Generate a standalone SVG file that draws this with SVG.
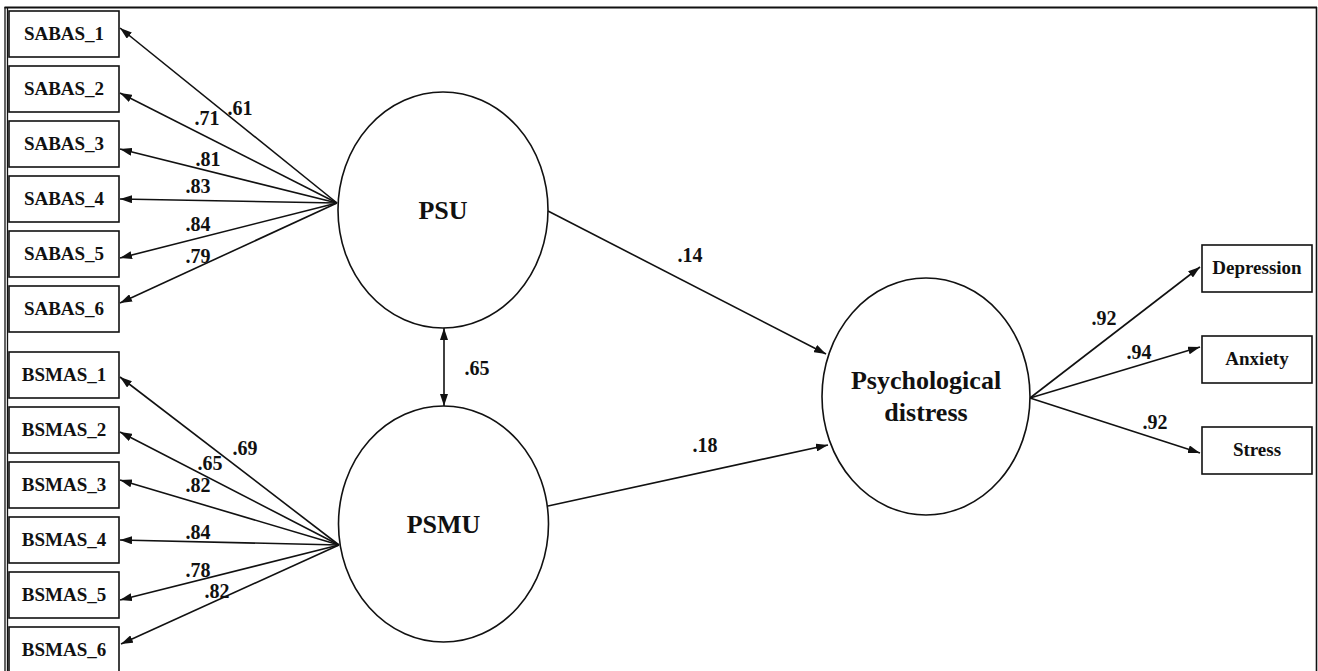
<svg xmlns="http://www.w3.org/2000/svg" width="1318" height="671" viewBox="0 0 1318 671">
<style>
.box{fill:#fff;stroke:#111;stroke-width:1.6}
.lat{fill:#fff;stroke:#111;stroke-width:1.6}
text{font-family:'Liberation Serif','Times New Roman','DejaVu Serif',serif;font-weight:700;fill:#111;text-anchor:middle}
.bl{font-size:19px}
.ll{font-size:26px}
.num{font-size:20px}
.c{stroke:#111;stroke-width:1.6;fill:none}
</style>
<defs>
<marker id="ah" viewBox="0 0 12 8" refX="12" refY="4" markerWidth="12" markerHeight="8" markerUnits="userSpaceOnUse" orient="auto-start-reverse">
<path d="M0,0 L12,4 L0,8 Z" fill="#111"/>
</marker>
</defs>
<rect x="0" y="0" width="1318" height="671" fill="#fff"/>
<g id="frame" stroke="#111" fill="none">
<line x1="4.5" y1="7.5" x2="1317" y2="7.5" stroke-width="2"/>
<line x1="5" y1="7" x2="5" y2="671" stroke-width="1.3"/>
<line x1="7.5" y1="7" x2="7.5" y2="671" stroke-width="1.3"/>
<line x1="1316.5" y1="7" x2="1316.5" y2="671" stroke-width="1.6"/>
</g>
<g id="connectors">
<line class="c" x1="337" y1="203" x2="120" y2="28" marker-end="url(#ah)"/>
<line class="c" x1="337" y1="203" x2="120" y2="93" marker-end="url(#ah)"/>
<line class="c" x1="337" y1="203" x2="120" y2="149" marker-end="url(#ah)"/>
<line class="c" x1="337" y1="203" x2="120" y2="199" marker-end="url(#ah)"/>
<line class="c" x1="337" y1="203" x2="120" y2="258" marker-end="url(#ah)"/>
<line class="c" x1="337" y1="203" x2="120" y2="303" marker-end="url(#ah)"/>
<line class="c" x1="339" y1="545" x2="120" y2="377" marker-end="url(#ah)"/>
<line class="c" x1="339" y1="545" x2="120" y2="432" marker-end="url(#ah)"/>
<line class="c" x1="339" y1="545" x2="120" y2="480" marker-end="url(#ah)"/>
<line class="c" x1="339" y1="545" x2="120" y2="540" marker-end="url(#ah)"/>
<line class="c" x1="339" y1="545" x2="120" y2="600" marker-end="url(#ah)"/>
<line class="c" x1="339" y1="545" x2="121" y2="644" marker-end="url(#ah)"/>
<line class="c" x1="444" y1="328" x2="444" y2="406" marker-start="url(#ah)" marker-end="url(#ah)"/>
<line class="c" x1="548" y1="211" x2="826" y2="354" marker-end="url(#ah)"/>
<line class="c" x1="548" y1="506" x2="828" y2="445" marker-end="url(#ah)"/>
<line class="c" x1="1030" y1="398" x2="1200" y2="267" marker-end="url(#ah)"/>
<line class="c" x1="1030" y1="398" x2="1200" y2="347" marker-end="url(#ah)"/>
<line class="c" x1="1030" y1="398" x2="1200" y2="453" marker-end="url(#ah)"/>
<text class="num" x="240" y="115">.61</text>
<text class="num" x="207" y="125">.71</text>
<text class="num" x="208" y="166">.81</text>
<text class="num" x="198" y="193">.83</text>
<text class="num" x="198" y="231">.84</text>
<text class="num" x="198" y="263">.79</text>
<text class="num" x="245" y="455">.69</text>
<text class="num" x="210" y="470">.65</text>
<text class="num" x="198" y="492">.82</text>
<text class="num" x="198" y="539">.84</text>
<text class="num" x="198" y="577">.78</text>
<text class="num" x="217" y="598">.82</text>
<text class="num" x="477" y="375">.65</text>
<text class="num" x="690" y="262">.14</text>
<text class="num" x="705" y="452">.18</text>
<text class="num" x="1104" y="325">.92</text>
<text class="num" x="1139" y="359">.94</text>
<text class="num" x="1155" y="429">.92</text>
</g>
<g id="SABAS_1"><rect class="box" x="9" y="11" width="110" height="46"/><text class="bl" x="64" y="40">SABAS_1</text></g>
<g id="SABAS_2"><rect class="box" x="9" y="66" width="110" height="46"/><text class="bl" x="64" y="95">SABAS_2</text></g>
<g id="SABAS_3"><rect class="box" x="9" y="121" width="110" height="46"/><text class="bl" x="64" y="150">SABAS_3</text></g>
<g id="SABAS_4"><rect class="box" x="9" y="176" width="110" height="46"/><text class="bl" x="64" y="205">SABAS_4</text></g>
<g id="SABAS_5"><rect class="box" x="9" y="231" width="110" height="46"/><text class="bl" x="64" y="260">SABAS_5</text></g>
<g id="SABAS_6"><rect class="box" x="9" y="286" width="110" height="46"/><text class="bl" x="64" y="315">SABAS_6</text></g>
<g id="BSMAS_1"><rect class="box" x="9" y="352" width="110" height="46"/><text class="bl" x="64" y="381">BSMAS_1</text></g>
<g id="BSMAS_2"><rect class="box" x="9" y="407" width="110" height="46"/><text class="bl" x="64" y="436">BSMAS_2</text></g>
<g id="BSMAS_3"><rect class="box" x="9" y="462" width="110" height="46"/><text class="bl" x="64" y="491">BSMAS_3</text></g>
<g id="BSMAS_4"><rect class="box" x="9" y="517" width="110" height="46"/><text class="bl" x="64" y="546">BSMAS_4</text></g>
<g id="BSMAS_5"><rect class="box" x="9" y="572" width="110" height="46"/><text class="bl" x="64" y="601">BSMAS_5</text></g>
<g id="BSMAS_6"><rect class="box" x="9" y="627" width="110" height="46"/><text class="bl" x="64" y="656">BSMAS_6</text></g>
<g id="PSU"><ellipse class="lat" cx="443" cy="210" rx="105" ry="118"/><text class="ll" x="443" y="219">PSU</text></g>
<g id="PSMU"><ellipse class="lat" cx="443.5" cy="524" rx="105" ry="118"/><text class="ll" x="443.5" y="533">PSMU</text></g>
<g id="PsychologicalDistress"><ellipse class="lat" cx="926" cy="396.5" rx="104" ry="118.5"/><text class="ll" x="926" y="389">Psychological</text><text class="ll" x="926" y="421">distress</text></g>
<g id="Depression"><rect class="box" x="1202" y="245" width="110" height="47"/><text class="bl" x="1257" y="274">Depression</text></g>
<g id="Anxiety"><rect class="box" x="1202" y="336" width="110" height="47"/><text class="bl" x="1257" y="365">Anxiety</text></g>
<g id="Stress"><rect class="box" x="1202" y="427" width="110" height="47"/><text class="bl" x="1257" y="456">Stress</text></g>
</svg>
